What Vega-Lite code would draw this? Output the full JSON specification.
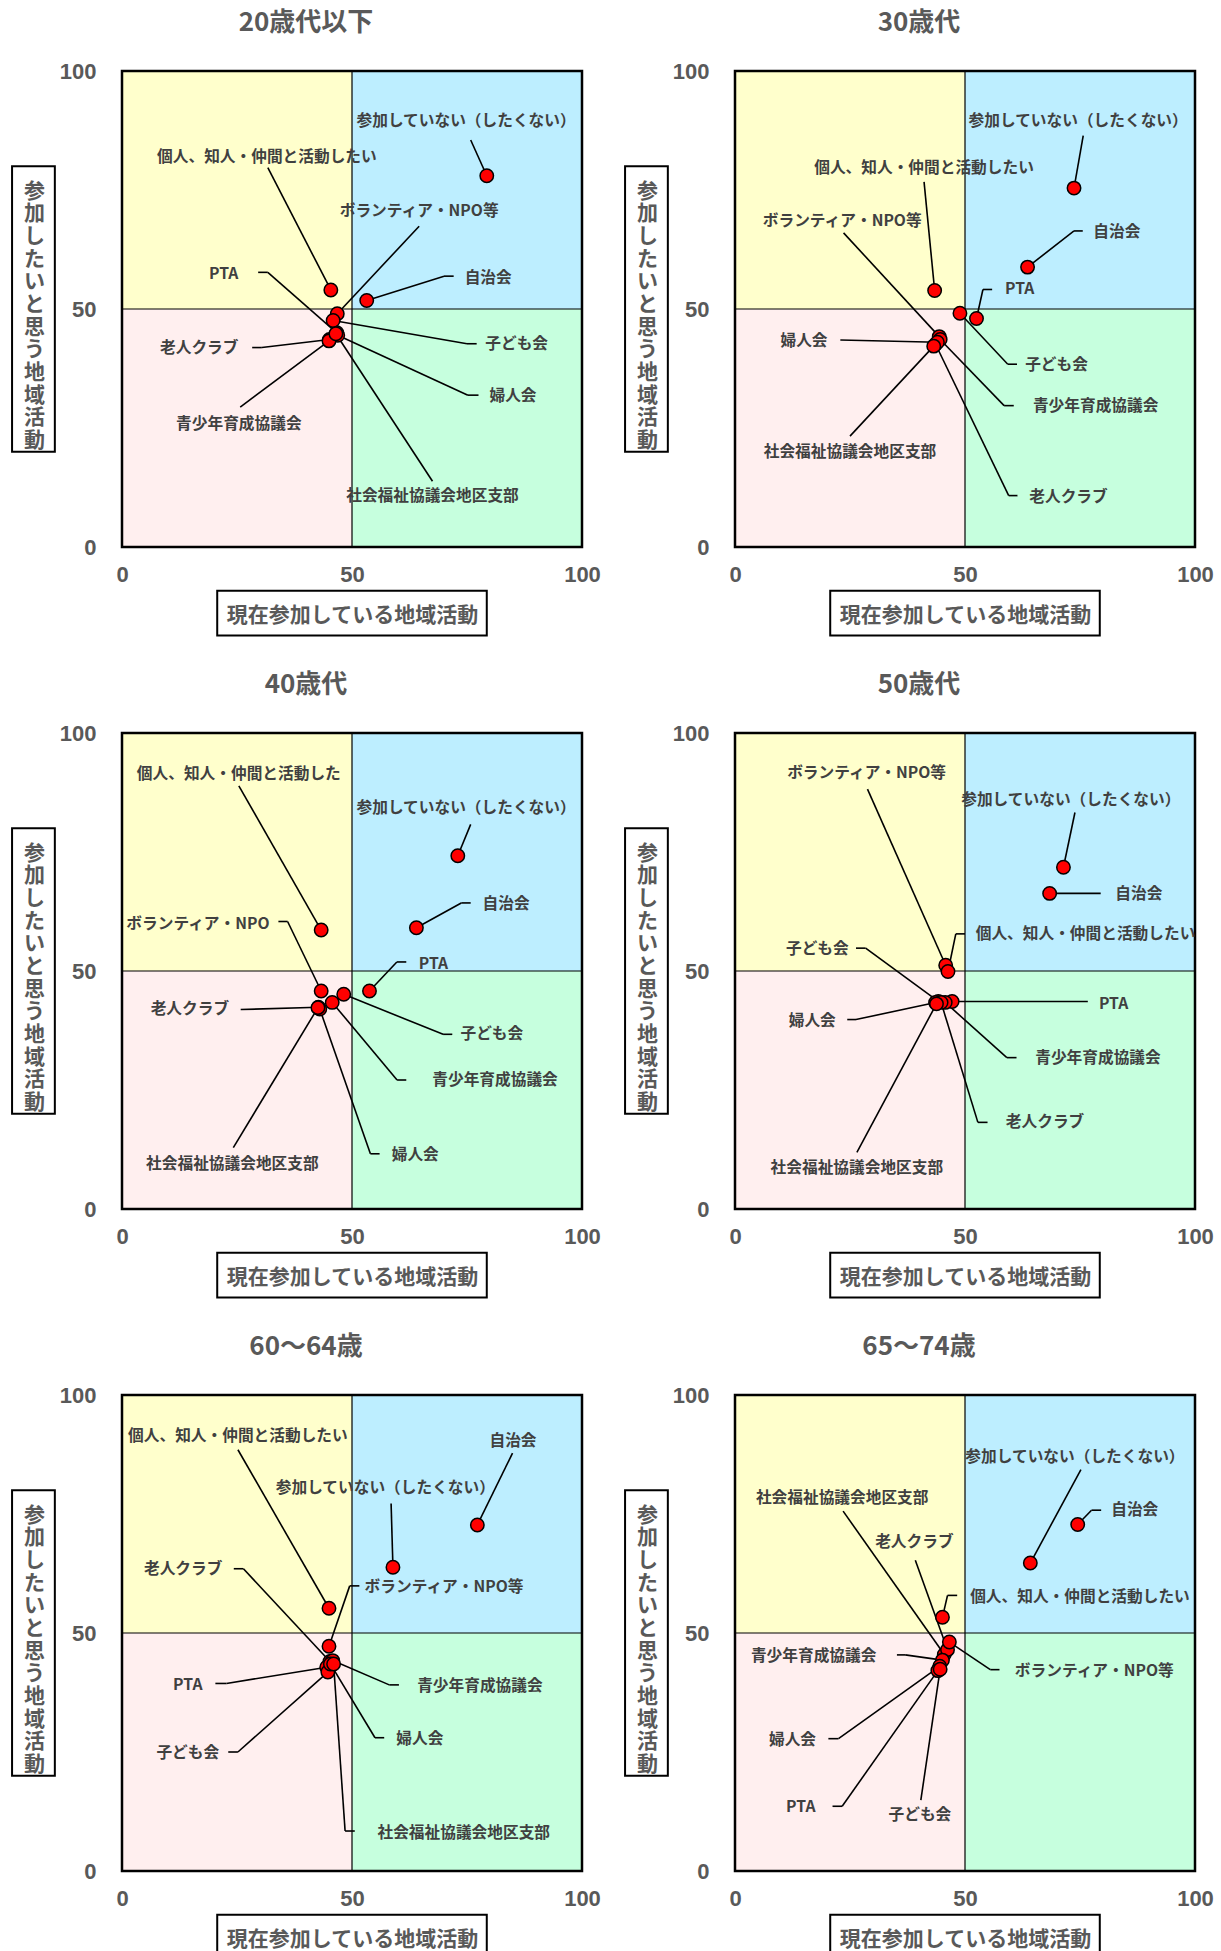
{
  "$schema": "https://vega.github.io/schema/vega-lite/v6.json",
  "autosize": {"type": "pad"},
  "padding": {"left": 11, "top": 10, "right": 0, "bottom": 0},
  "background": "white",
  "config": {
    "view": {"stroke": null},
    "axis": {"labelFont": "Liberation Sans", "labelFontSize": 22, "labelFontWeight": "bold", "labelColor": "#595959",
      "titleFont": "Noto Sans CJK JP", "titleFontSize": 21, "titleFontWeight": "bold", "titleColor": "#595959",
      "ticks": false, "tickSize": 0, "domain": false, "grid": false, "labelFlush": false, "labelOverlap": false},
    "axisX": {"labelPadding": 17, "titleY": 68, "titleBaseline": "middle"},
    "axisY": {"labelPadding": 26, "titleAngle": 0, "titleX": -88, "titleY": 120, "titleAlign": "center", "titleBaseline": "middle", "titleLineHeight": 22.7}
  },
  "data": {"values": [
    {"panel": "20歳代以下", "cat": "参加していない（したくない）", "label": "参加していない（したくない）", "x": 79.3, "y": 78.0, "lx": 74.8, "ly": 89.6, "ex": 75.8, "ey": 85.5},
    {"panel": "20歳代以下", "cat": "個人、知人・仲間と活動したい", "label": "個人、知人・仲間と活動したい", "x": 45.4, "y": 54.0, "lx": 31.5, "ly": 82.0, "ex": 31.7, "ey": 79.7},
    {"panel": "20歳代以下", "cat": "ボランティア・NPO等", "label": "ボランティア・NPO等", "x": 46.8, "y": 49.0, "lx": 64.6, "ly": 70.6, "ex": 64.6, "ey": 67.4},
    {"panel": "20歳代以下", "cat": "自治会", "label": "自治会", "x": 53.2, "y": 51.8, "lx": 79.6, "ly": 56.6, "ex": 70.0, "ey": 56.9, "hx": 72.1},
    {"panel": "20歳代以下", "cat": "PTA", "label": "PTA", "x": 46.7, "y": 45.0, "lx": 22.1, "ly": 57.4, "ex": 31.7, "ey": 57.7, "hx": 29.6},
    {"panel": "20歳代以下", "cat": "子ども会", "label": "子ども会", "x": 45.9, "y": 47.6, "lx": 85.8, "ly": 42.6, "ex": 75.0, "ey": 42.7, "hx": 77.1},
    {"panel": "20歳代以下", "cat": "婦人会", "label": "婦人会", "x": 46.9, "y": 44.5, "lx": 85.0, "ly": 31.7, "ex": 75.2, "ey": 31.9, "hx": 77.5},
    {"panel": "20歳代以下", "cat": "老人クラブ", "label": "老人クラブ", "x": 45.1, "y": 43.6, "lx": 16.8, "ly": 41.9, "ex": 30.4, "ey": 41.9, "hx": 28.3},
    {"panel": "20歳代以下", "cat": "青少年育成協議会", "label": "青少年育成協議会", "x": 45.0, "y": 43.3, "lx": 25.4, "ly": 25.8, "ex": 25.7, "ey": 29.4},
    {"panel": "20歳代以下", "cat": "社会福祉協議会地区支部", "label": "社会福祉協議会地区支部", "x": 46.5, "y": 44.8, "lx": 67.5, "ly": 10.8, "ex": 67.5, "ey": 13.8},

    {"panel": "30歳代", "cat": "参加していない（したくない）", "label": "参加していない（したくない）", "x": 73.7, "y": 75.4, "lx": 74.6, "ly": 89.5, "ex": 75.7, "ey": 86.4},
    {"panel": "30歳代", "cat": "個人、知人・仲間と活動したい", "label": "個人、知人・仲間と活動したい", "x": 43.4, "y": 53.9, "lx": 41.1, "ly": 79.7, "ex": 41.1, "ey": 76.7},
    {"panel": "30歳代", "cat": "ボランティア・NPO等", "label": "ボランティア・NPO等", "x": 44.4, "y": 44.2, "lx": 23.3, "ly": 68.4, "ex": 23.6, "ey": 66.0},
    {"panel": "30歳代", "cat": "自治会", "label": "自治会", "x": 63.6, "y": 58.8, "lx": 83.0, "ly": 66.2, "ex": 73.7, "ey": 66.4, "hx": 75.6},
    {"panel": "30歳代", "cat": "PTA", "label": "PTA", "x": 52.5, "y": 48.0, "lx": 61.9, "ly": 54.1, "ex": 53.9, "ey": 54.1, "hx": 55.9},
    {"panel": "30歳代", "cat": "子ども会", "label": "子ども会", "x": 48.9, "y": 49.1, "lx": 69.9, "ly": 38.2, "ex": 59.3, "ey": 38.4, "hx": 61.3},
    {"panel": "30歳代", "cat": "青少年育成協議会", "label": "青少年育成協議会", "x": 44.6, "y": 43.6, "lx": 78.4, "ly": 29.6, "ex": 58.5, "ey": 29.7, "hx": 60.6},
    {"panel": "30歳代", "cat": "老人クラブ", "label": "老人クラブ", "x": 43.6, "y": 42.6, "lx": 72.5, "ly": 10.6, "ex": 59.5, "ey": 10.8, "hx": 61.4},
    {"panel": "30歳代", "cat": "婦人会", "label": "婦人会", "x": 44.0, "y": 43.0, "lx": 15.0, "ly": 43.3, "ex": 22.9, "ey": 43.5},
    {"panel": "30歳代", "cat": "社会福祉協議会地区支部", "label": "社会福祉協議会地区支部", "x": 43.2, "y": 42.2, "lx": 25.0, "ly": 20.0, "ex": 25.0, "ey": 23.3},

    {"panel": "40歳代", "cat": "参加していない（したくない）", "label": "参加していない（したくない）", "x": 73.0, "y": 74.2, "lx": 74.8, "ly": 84.3, "ex": 75.8, "ey": 80.8},
    {"panel": "40歳代", "cat": "個人、知人・仲間と活動したい", "label": "個人、知人・仲間と活動した", "x": 43.3, "y": 58.6, "lx": 25.4, "ly": 91.4, "ex": 25.4, "ey": 88.9},
    {"panel": "40歳代", "cat": "ボランティア・NPO等", "label": "ボランティア・NPO", "x": 43.3, "y": 45.8, "lx": 16.5, "ly": 59.9, "ex": 36.0, "ey": 60.4, "hx": 34.0},
    {"panel": "40歳代", "cat": "自治会", "label": "自治会", "x": 64.0, "y": 59.1, "lx": 83.5, "ly": 64.1, "ex": 73.75, "ey": 64.3, "hx": 75.8},
    {"panel": "40歳代", "cat": "PTA", "label": "PTA", "x": 53.8, "y": 45.8, "lx": 67.7, "ly": 51.4, "ex": 59.75, "ey": 51.9, "hx": 61.8},
    {"panel": "40歳代", "cat": "子ども会", "label": "子ども会", "x": 48.2, "y": 45.1, "lx": 80.4, "ly": 36.7, "ex": 69.8, "ey": 36.7, "hx": 71.8},
    {"panel": "40歳代", "cat": "青少年育成協議会", "label": "青少年育成協議会", "x": 45.7, "y": 43.4, "lx": 81.1, "ly": 27.1, "ex": 59.8, "ey": 27.1, "hx": 61.8},
    {"panel": "40歳代", "cat": "老人クラブ", "label": "老人クラブ", "x": 42.7, "y": 42.4, "lx": 14.75, "ly": 42.0, "ex": 25.8, "ey": 41.9},
    {"panel": "40歳代", "cat": "婦人会", "label": "婦人会", "x": 43.0, "y": 42.0, "lx": 63.75, "ly": 11.4, "ex": 54.0, "ey": 11.6, "hx": 56.0},
    {"panel": "40歳代", "cat": "社会福祉協議会地区支部", "label": "社会福祉協議会地区支部", "x": 42.6, "y": 42.3, "lx": 24.0, "ly": 9.4, "ex": 24.2, "ey": 12.9},

    {"panel": "50歳代", "cat": "参加していない（したくない）", "label": "参加していない（したくない）", "x": 71.4, "y": 71.8, "lx": 73.0, "ly": 85.9, "ex": 73.9, "ey": 83.3},
    {"panel": "50歳代", "cat": "自治会", "label": "自治会", "x": 68.4, "y": 66.3, "lx": 87.8, "ly": 66.2, "ex": 79.5, "ey": 66.3},
    {"panel": "50歳代", "cat": "ボランティア・NPO等", "label": "ボランティア・NPO等", "x": 45.8, "y": 51.2, "lx": 28.6, "ly": 91.5, "ex": 28.8, "ey": 88.2},
    {"panel": "50歳代", "cat": "個人、知人・仲間と活動したい", "label": "個人、知人・仲間と活動したい", "x": 46.3, "y": 49.9, "lx": 76.2, "ly": 57.8, "ex": 48.0, "ey": 57.8, "hx": 50.0},
    {"panel": "50歳代", "cat": "子ども会", "label": "子ども会", "x": 44.2, "y": 43.6, "lx": 17.9, "ly": 54.6, "ex": 28.4, "ey": 54.8, "hx": 26.3},
    {"panel": "50歳代", "cat": "婦人会", "label": "婦人会", "x": 43.6, "y": 43.4, "lx": 16.8, "ly": 39.6, "ex": 26.3, "ey": 39.8, "hx": 24.4},
    {"panel": "50歳代", "cat": "PTA", "label": "PTA", "x": 47.2, "y": 43.6, "lx": 82.3, "ly": 43.1, "ex": 76.7, "ey": 43.6},
    {"panel": "50歳代", "cat": "青少年育成協議会", "label": "青少年育成協議会", "x": 45.7, "y": 43.4, "lx": 78.9, "ly": 31.7, "ex": 59.1, "ey": 31.8, "hx": 61.2},
    {"panel": "50歳代", "cat": "老人クラブ", "label": "老人クラブ", "x": 44.8, "y": 43.4, "lx": 67.4, "ly": 18.2, "ex": 52.8, "ey": 18.2, "hx": 54.9},
    {"panel": "50歳代", "cat": "社会福祉協議会地区支部", "label": "社会福祉協議会地区支部", "x": 43.8, "y": 43.1, "lx": 26.5, "ly": 8.7, "ex": 26.5, "ey": 11.9},

    {"panel": "60～64歳", "cat": "自治会", "label": "自治会", "x": 77.25, "y": 72.7, "lx": 85.0, "ly": 90.3, "ex": 84.9, "ey": 87.8},
    {"panel": "60～64歳", "cat": "参加していない（したくない）", "label": "参加していない（したくない）", "x": 58.9, "y": 63.8, "lx": 57.25, "ly": 80.4, "ex": 58.5, "ey": 77.2},
    {"panel": "60～64歳", "cat": "個人、知人・仲間と活動したい", "label": "個人、知人・仲間と活動したい", "x": 45.0, "y": 55.2, "lx": 25.2, "ly": 91.4, "ex": 25.2, "ey": 88.5},
    {"panel": "60～64歳", "cat": "老人クラブ", "label": "老人クラブ", "x": 45.2, "y": 44.0, "lx": 13.3, "ly": 63.5, "ex": 26.4, "ey": 63.5, "hx": 24.3},
    {"panel": "60～64歳", "cat": "ボランティア・NPO等", "label": "ボランティア・NPO等", "x": 45.0, "y": 47.2, "lx": 70.0, "ly": 59.7, "ex": 49.5, "ey": 59.9, "hx": 51.6},
    {"panel": "60～64歳", "cat": "青少年育成協議会", "label": "青少年育成協議会", "x": 45.8, "y": 44.2, "lx": 77.8, "ly": 38.8, "ex": 58.1, "ey": 39.1, "hx": 60.2},
    {"panel": "60～64歳", "cat": "PTA", "label": "PTA", "x": 44.5, "y": 42.8, "lx": 14.3, "ly": 39.1, "ex": 22.7, "ey": 39.4, "hx": 20.3},
    {"panel": "60～64歳", "cat": "子ども会", "label": "子ども会", "x": 44.75, "y": 41.8, "lx": 14.3, "ly": 24.7, "ex": 25.2, "ey": 25.0, "hx": 23.1},
    {"panel": "60～64歳", "cat": "婦人会", "label": "婦人会", "x": 45.3, "y": 43.5, "lx": 64.75, "ly": 27.8, "ex": 55.0, "ey": 28.0, "hx": 57.0},
    {"panel": "60～64歳", "cat": "社会福祉協議会地区支部", "label": "社会福祉協議会地区支部", "x": 46.0, "y": 43.5, "lx": 74.3, "ly": 8.0, "ex": 48.5, "ey": 8.4, "hx": 50.6},

    {"panel": "65～74歳", "cat": "参加していない（したくない）", "label": "参加していない（したくない）", "x": 64.2, "y": 64.7, "lx": 73.9, "ly": 87.0, "ex": 75.2, "ey": 84.3},
    {"panel": "65～74歳", "cat": "自治会", "label": "自治会", "x": 74.5, "y": 72.8, "lx": 86.9, "ly": 75.8, "ex": 77.5, "ey": 75.8, "hx": 79.6},
    {"panel": "65～74歳", "cat": "社会福祉協議会地区支部", "label": "社会福祉協議会地区支部", "x": 45.5, "y": 45.5, "lx": 23.3, "ly": 78.4, "ex": 23.5, "ey": 75.6},
    {"panel": "65～74歳", "cat": "老人クラブ", "label": "老人クラブ", "x": 46.2, "y": 46.5, "lx": 39.0, "ly": 69.1, "ex": 39.2, "ey": 65.3},
    {"panel": "65～74歳", "cat": "個人、知人・仲間と活動したい", "label": "個人、知人・仲間と活動したい", "x": 45.1, "y": 53.3, "lx": 75.0, "ly": 57.6, "ex": 46.2, "ey": 57.9, "hx": 48.3},
    {"panel": "65～74歳", "cat": "ボランティア・NPO等", "label": "ボランティア・NPO等", "x": 46.6, "y": 48.1, "lx": 78.1, "ly": 42.1, "ex": 55.5, "ey": 42.3, "hx": 57.5},
    {"panel": "65～74歳", "cat": "青少年育成協議会", "label": "青少年育成協議会", "x": 45.1, "y": 44.3, "lx": 17.1, "ly": 45.1, "ex": 37.0, "ey": 45.4, "hx": 35.2},
    {"panel": "65～74歳", "cat": "婦人会", "label": "婦人会", "x": 44.5, "y": 43.0, "lx": 12.5, "ly": 27.6, "ex": 22.5, "ey": 27.8, "hx": 20.3},
    {"panel": "65～74歳", "cat": "PTA", "label": "PTA", "x": 44.1, "y": 42.1, "lx": 14.3, "ly": 13.4, "ex": 23.3, "ey": 13.6, "hx": 21.2},
    {"panel": "65～74歳", "cat": "子ども会", "label": "子ども会", "x": 44.6, "y": 42.4, "lx": 40.2, "ly": 11.8, "ex": 40.4, "ey": 14.9}
  ]},
  "columns": 2,
  "spacing": {"row": 186, "column": 153},
  "bounds": "flush",
  "concat": [
    {"width": 460, "height": 476, "transform": [{"filter": "datum.panel === '20歳代以下'"}], "layer": [
      {"transform": [{"filter": "datum.cat === '自治会'"}], "mark": {"type": "rect", "color": "#FFFFCC"},
       "encoding": {"x": {"datum": 0, "type": "quantitative", "scale": {"domain": [0, 100], "nice": false, "zero": false}, "axis": {"values": [0, 50, 100], "title": "現在参加している地域活動"}}, "x2": {"datum": 50},
         "y": {"datum": 50, "type": "quantitative", "scale": {"domain": [0, 100], "nice": false, "zero": false}, "axis": {"values": [0, 50, 100], "title": ["参", "加", "し", "た", "い", "と", "思", "う", "地", "域", "活", "動"]}}, "y2": {"datum": 100}}},
      {"transform": [{"filter": "datum.cat === '自治会'"}], "mark": {"type": "rect", "color": "#BDEEFF"}, "encoding": {"x": {"datum": 50, "type": "quantitative"}, "x2": {"datum": 100}, "y": {"datum": 50, "type": "quantitative"}, "y2": {"datum": 100}}},
      {"transform": [{"filter": "datum.cat === '自治会'"}], "mark": {"type": "rect", "color": "#FFEFEF"}, "encoding": {"x": {"datum": 0, "type": "quantitative"}, "x2": {"datum": 50}, "y": {"datum": 0, "type": "quantitative"}, "y2": {"datum": 50}}},
      {"transform": [{"filter": "datum.cat === '自治会'"}], "mark": {"type": "rect", "color": "#C6FFDE"}, "encoding": {"x": {"datum": 50, "type": "quantitative"}, "x2": {"datum": 100}, "y": {"datum": 0, "type": "quantitative"}, "y2": {"datum": 50}}},
      {"transform": [{"filter": "datum.cat === '自治会'"}], "mark": {"type": "rule", "color": "#000000", "strokeWidth": 1.2}, "encoding": {"x": {"datum": 50, "type": "quantitative"}}},
      {"transform": [{"filter": "datum.cat === '自治会'"}], "mark": {"type": "rule", "color": "#000000", "strokeWidth": 1.2}, "encoding": {"y": {"datum": 50, "type": "quantitative"}}},
      {"transform": [{"filter": "datum.cat === '自治会'"}], "mark": {"type": "rect", "fillOpacity": 0, "stroke": "#000000", "strokeWidth": 2.5}, "encoding": {"x": {"datum": 0, "type": "quantitative"}, "x2": {"datum": 100}, "y": {"datum": 0, "type": "quantitative"}, "y2": {"datum": 100}}},
      {"transform": [{"filter": "datum.cat === '自治会'"}], "mark": {"type": "rect", "fillOpacity": 0, "stroke": "#000000", "strokeWidth": 2}, "encoding": {"x": {"datum": 20.7, "type": "quantitative"}, "x2": {"datum": 79.3}, "y": {"datum": -9.2, "type": "quantitative"}, "y2": {"datum": -18.6}}},
      {"transform": [{"filter": "datum.cat === '自治会'"}], "mark": {"type": "rect", "fillOpacity": 0, "stroke": "#000000", "strokeWidth": 2}, "encoding": {"x": {"datum": -23.9, "type": "quantitative"}, "x2": {"datum": -14.6}, "y": {"datum": 20, "type": "quantitative"}, "y2": {"datum": 80}}},
      {"transform": [{"filter": "datum.cat === '自治会'"}], "mark": {"type": "text", "font": "Noto Sans CJK JP", "fontSize": 26, "fontWeight": "bold", "color": "#595959", "align": "center", "baseline": "middle"}, "encoding": {"x": {"datum": 40, "type": "quantitative"}, "y": {"datum": 110, "type": "quantitative"}, "text": {"field": "panel"}}},
      {"mark": {"type": "rule", "color": "#000000", "strokeWidth": 1.6}, "encoding": {"x": {"field": "x", "type": "quantitative"}, "y": {"field": "y", "type": "quantitative"}, "x2": {"field": "ex"}, "y2": {"field": "ey"}}},
      {"transform": [{"filter": "isValid(datum.hx)"}], "mark": {"type": "rule", "color": "#000000", "strokeWidth": 1.6}, "encoding": {"x": {"field": "ex", "type": "quantitative"}, "x2": {"field": "hx"}, "y": {"field": "ey", "type": "quantitative"}}},
      {"mark": {"type": "point", "shape": "circle", "filled": true, "fill": "#FF0000", "stroke": "#000000", "strokeWidth": 1.5, "size": 180, "opacity": 1}, "encoding": {"x": {"field": "x", "type": "quantitative"}, "y": {"field": "y", "type": "quantitative"}, "tooltip": [{"field": "cat"}, {"field": "x"}, {"field": "y"}]}},
      {"mark": {"type": "text", "font": "Noto Sans CJK JP", "fontSize": 15.7, "fontWeight": "bold", "color": "#404040", "align": "center", "baseline": "middle"}, "encoding": {"x": {"field": "lx", "type": "quantitative"}, "y": {"field": "ly", "type": "quantitative"}, "text": {"field": "label"}}}
    ]},
    {"width": 460, "height": 476, "transform": [{"filter": "datum.panel === '30歳代'"}], "layer": [
      {"transform": [{"filter": "datum.cat === '自治会'"}], "mark": {"type": "rect", "color": "#FFFFCC"},
       "encoding": {"x": {"datum": 0, "type": "quantitative", "scale": {"domain": [0, 100], "nice": false, "zero": false}, "axis": {"values": [0, 50, 100], "title": "現在参加している地域活動"}}, "x2": {"datum": 50},
         "y": {"datum": 50, "type": "quantitative", "scale": {"domain": [0, 100], "nice": false, "zero": false}, "axis": {"values": [0, 50, 100], "title": ["参", "加", "し", "た", "い", "と", "思", "う", "地", "域", "活", "動"]}}, "y2": {"datum": 100}}},
      {"transform": [{"filter": "datum.cat === '自治会'"}], "mark": {"type": "rect", "color": "#BDEEFF"}, "encoding": {"x": {"datum": 50, "type": "quantitative"}, "x2": {"datum": 100}, "y": {"datum": 50, "type": "quantitative"}, "y2": {"datum": 100}}},
      {"transform": [{"filter": "datum.cat === '自治会'"}], "mark": {"type": "rect", "color": "#FFEFEF"}, "encoding": {"x": {"datum": 0, "type": "quantitative"}, "x2": {"datum": 50}, "y": {"datum": 0, "type": "quantitative"}, "y2": {"datum": 50}}},
      {"transform": [{"filter": "datum.cat === '自治会'"}], "mark": {"type": "rect", "color": "#C6FFDE"}, "encoding": {"x": {"datum": 50, "type": "quantitative"}, "x2": {"datum": 100}, "y": {"datum": 0, "type": "quantitative"}, "y2": {"datum": 50}}},
      {"transform": [{"filter": "datum.cat === '自治会'"}], "mark": {"type": "rule", "color": "#000000", "strokeWidth": 1.2}, "encoding": {"x": {"datum": 50, "type": "quantitative"}}},
      {"transform": [{"filter": "datum.cat === '自治会'"}], "mark": {"type": "rule", "color": "#000000", "strokeWidth": 1.2}, "encoding": {"y": {"datum": 50, "type": "quantitative"}}},
      {"transform": [{"filter": "datum.cat === '自治会'"}], "mark": {"type": "rect", "fillOpacity": 0, "stroke": "#000000", "strokeWidth": 2.5}, "encoding": {"x": {"datum": 0, "type": "quantitative"}, "x2": {"datum": 100}, "y": {"datum": 0, "type": "quantitative"}, "y2": {"datum": 100}}},
      {"transform": [{"filter": "datum.cat === '自治会'"}], "mark": {"type": "rect", "fillOpacity": 0, "stroke": "#000000", "strokeWidth": 2}, "encoding": {"x": {"datum": 20.7, "type": "quantitative"}, "x2": {"datum": 79.3}, "y": {"datum": -9.2, "type": "quantitative"}, "y2": {"datum": -18.6}}},
      {"transform": [{"filter": "datum.cat === '自治会'"}], "mark": {"type": "rect", "fillOpacity": 0, "stroke": "#000000", "strokeWidth": 2}, "encoding": {"x": {"datum": -23.9, "type": "quantitative"}, "x2": {"datum": -14.6}, "y": {"datum": 20, "type": "quantitative"}, "y2": {"datum": 80}}},
      {"transform": [{"filter": "datum.cat === '自治会'"}], "mark": {"type": "text", "font": "Noto Sans CJK JP", "fontSize": 26, "fontWeight": "bold", "color": "#595959", "align": "center", "baseline": "middle"}, "encoding": {"x": {"datum": 40, "type": "quantitative"}, "y": {"datum": 110, "type": "quantitative"}, "text": {"field": "panel"}}},
      {"mark": {"type": "rule", "color": "#000000", "strokeWidth": 1.6}, "encoding": {"x": {"field": "x", "type": "quantitative"}, "y": {"field": "y", "type": "quantitative"}, "x2": {"field": "ex"}, "y2": {"field": "ey"}}},
      {"transform": [{"filter": "isValid(datum.hx)"}], "mark": {"type": "rule", "color": "#000000", "strokeWidth": 1.6}, "encoding": {"x": {"field": "ex", "type": "quantitative"}, "x2": {"field": "hx"}, "y": {"field": "ey", "type": "quantitative"}}},
      {"mark": {"type": "point", "shape": "circle", "filled": true, "fill": "#FF0000", "stroke": "#000000", "strokeWidth": 1.5, "size": 180, "opacity": 1}, "encoding": {"x": {"field": "x", "type": "quantitative"}, "y": {"field": "y", "type": "quantitative"}, "tooltip": [{"field": "cat"}, {"field": "x"}, {"field": "y"}]}},
      {"mark": {"type": "text", "font": "Noto Sans CJK JP", "fontSize": 15.7, "fontWeight": "bold", "color": "#404040", "align": "center", "baseline": "middle"}, "encoding": {"x": {"field": "lx", "type": "quantitative"}, "y": {"field": "ly", "type": "quantitative"}, "text": {"field": "label"}}}
    ]},
    {"width": 460, "height": 476, "transform": [{"filter": "datum.panel === '40歳代'"}], "layer": [
      {"transform": [{"filter": "datum.cat === '自治会'"}], "mark": {"type": "rect", "color": "#FFFFCC"},
       "encoding": {"x": {"datum": 0, "type": "quantitative", "scale": {"domain": [0, 100], "nice": false, "zero": false}, "axis": {"values": [0, 50, 100], "title": "現在参加している地域活動"}}, "x2": {"datum": 50},
         "y": {"datum": 50, "type": "quantitative", "scale": {"domain": [0, 100], "nice": false, "zero": false}, "axis": {"values": [0, 50, 100], "title": ["参", "加", "し", "た", "い", "と", "思", "う", "地", "域", "活", "動"]}}, "y2": {"datum": 100}}},
      {"transform": [{"filter": "datum.cat === '自治会'"}], "mark": {"type": "rect", "color": "#BDEEFF"}, "encoding": {"x": {"datum": 50, "type": "quantitative"}, "x2": {"datum": 100}, "y": {"datum": 50, "type": "quantitative"}, "y2": {"datum": 100}}},
      {"transform": [{"filter": "datum.cat === '自治会'"}], "mark": {"type": "rect", "color": "#FFEFEF"}, "encoding": {"x": {"datum": 0, "type": "quantitative"}, "x2": {"datum": 50}, "y": {"datum": 0, "type": "quantitative"}, "y2": {"datum": 50}}},
      {"transform": [{"filter": "datum.cat === '自治会'"}], "mark": {"type": "rect", "color": "#C6FFDE"}, "encoding": {"x": {"datum": 50, "type": "quantitative"}, "x2": {"datum": 100}, "y": {"datum": 0, "type": "quantitative"}, "y2": {"datum": 50}}},
      {"transform": [{"filter": "datum.cat === '自治会'"}], "mark": {"type": "rule", "color": "#000000", "strokeWidth": 1.2}, "encoding": {"x": {"datum": 50, "type": "quantitative"}}},
      {"transform": [{"filter": "datum.cat === '自治会'"}], "mark": {"type": "rule", "color": "#000000", "strokeWidth": 1.2}, "encoding": {"y": {"datum": 50, "type": "quantitative"}}},
      {"transform": [{"filter": "datum.cat === '自治会'"}], "mark": {"type": "rect", "fillOpacity": 0, "stroke": "#000000", "strokeWidth": 2.5}, "encoding": {"x": {"datum": 0, "type": "quantitative"}, "x2": {"datum": 100}, "y": {"datum": 0, "type": "quantitative"}, "y2": {"datum": 100}}},
      {"transform": [{"filter": "datum.cat === '自治会'"}], "mark": {"type": "rect", "fillOpacity": 0, "stroke": "#000000", "strokeWidth": 2}, "encoding": {"x": {"datum": 20.7, "type": "quantitative"}, "x2": {"datum": 79.3}, "y": {"datum": -9.2, "type": "quantitative"}, "y2": {"datum": -18.6}}},
      {"transform": [{"filter": "datum.cat === '自治会'"}], "mark": {"type": "rect", "fillOpacity": 0, "stroke": "#000000", "strokeWidth": 2}, "encoding": {"x": {"datum": -23.9, "type": "quantitative"}, "x2": {"datum": -14.6}, "y": {"datum": 20, "type": "quantitative"}, "y2": {"datum": 80}}},
      {"transform": [{"filter": "datum.cat === '自治会'"}], "mark": {"type": "text", "font": "Noto Sans CJK JP", "fontSize": 26, "fontWeight": "bold", "color": "#595959", "align": "center", "baseline": "middle"}, "encoding": {"x": {"datum": 40, "type": "quantitative"}, "y": {"datum": 110, "type": "quantitative"}, "text": {"field": "panel"}}},
      {"mark": {"type": "rule", "color": "#000000", "strokeWidth": 1.6}, "encoding": {"x": {"field": "x", "type": "quantitative"}, "y": {"field": "y", "type": "quantitative"}, "x2": {"field": "ex"}, "y2": {"field": "ey"}}},
      {"transform": [{"filter": "isValid(datum.hx)"}], "mark": {"type": "rule", "color": "#000000", "strokeWidth": 1.6}, "encoding": {"x": {"field": "ex", "type": "quantitative"}, "x2": {"field": "hx"}, "y": {"field": "ey", "type": "quantitative"}}},
      {"mark": {"type": "point", "shape": "circle", "filled": true, "fill": "#FF0000", "stroke": "#000000", "strokeWidth": 1.5, "size": 180, "opacity": 1}, "encoding": {"x": {"field": "x", "type": "quantitative"}, "y": {"field": "y", "type": "quantitative"}, "tooltip": [{"field": "cat"}, {"field": "x"}, {"field": "y"}]}},
      {"mark": {"type": "text", "font": "Noto Sans CJK JP", "fontSize": 15.7, "fontWeight": "bold", "color": "#404040", "align": "center", "baseline": "middle"}, "encoding": {"x": {"field": "lx", "type": "quantitative"}, "y": {"field": "ly", "type": "quantitative"}, "text": {"field": "label"}}}
    ]},
    {"width": 460, "height": 476, "transform": [{"filter": "datum.panel === '50歳代'"}], "layer": [
      {"transform": [{"filter": "datum.cat === '自治会'"}], "mark": {"type": "rect", "color": "#FFFFCC"},
       "encoding": {"x": {"datum": 0, "type": "quantitative", "scale": {"domain": [0, 100], "nice": false, "zero": false}, "axis": {"values": [0, 50, 100], "title": "現在参加している地域活動"}}, "x2": {"datum": 50},
         "y": {"datum": 50, "type": "quantitative", "scale": {"domain": [0, 100], "nice": false, "zero": false}, "axis": {"values": [0, 50, 100], "title": ["参", "加", "し", "た", "い", "と", "思", "う", "地", "域", "活", "動"]}}, "y2": {"datum": 100}}},
      {"transform": [{"filter": "datum.cat === '自治会'"}], "mark": {"type": "rect", "color": "#BDEEFF"}, "encoding": {"x": {"datum": 50, "type": "quantitative"}, "x2": {"datum": 100}, "y": {"datum": 50, "type": "quantitative"}, "y2": {"datum": 100}}},
      {"transform": [{"filter": "datum.cat === '自治会'"}], "mark": {"type": "rect", "color": "#FFEFEF"}, "encoding": {"x": {"datum": 0, "type": "quantitative"}, "x2": {"datum": 50}, "y": {"datum": 0, "type": "quantitative"}, "y2": {"datum": 50}}},
      {"transform": [{"filter": "datum.cat === '自治会'"}], "mark": {"type": "rect", "color": "#C6FFDE"}, "encoding": {"x": {"datum": 50, "type": "quantitative"}, "x2": {"datum": 100}, "y": {"datum": 0, "type": "quantitative"}, "y2": {"datum": 50}}},
      {"transform": [{"filter": "datum.cat === '自治会'"}], "mark": {"type": "rule", "color": "#000000", "strokeWidth": 1.2}, "encoding": {"x": {"datum": 50, "type": "quantitative"}}},
      {"transform": [{"filter": "datum.cat === '自治会'"}], "mark": {"type": "rule", "color": "#000000", "strokeWidth": 1.2}, "encoding": {"y": {"datum": 50, "type": "quantitative"}}},
      {"transform": [{"filter": "datum.cat === '自治会'"}], "mark": {"type": "rect", "fillOpacity": 0, "stroke": "#000000", "strokeWidth": 2.5}, "encoding": {"x": {"datum": 0, "type": "quantitative"}, "x2": {"datum": 100}, "y": {"datum": 0, "type": "quantitative"}, "y2": {"datum": 100}}},
      {"transform": [{"filter": "datum.cat === '自治会'"}], "mark": {"type": "rect", "fillOpacity": 0, "stroke": "#000000", "strokeWidth": 2}, "encoding": {"x": {"datum": 20.7, "type": "quantitative"}, "x2": {"datum": 79.3}, "y": {"datum": -9.2, "type": "quantitative"}, "y2": {"datum": -18.6}}},
      {"transform": [{"filter": "datum.cat === '自治会'"}], "mark": {"type": "rect", "fillOpacity": 0, "stroke": "#000000", "strokeWidth": 2}, "encoding": {"x": {"datum": -23.9, "type": "quantitative"}, "x2": {"datum": -14.6}, "y": {"datum": 20, "type": "quantitative"}, "y2": {"datum": 80}}},
      {"transform": [{"filter": "datum.cat === '自治会'"}], "mark": {"type": "text", "font": "Noto Sans CJK JP", "fontSize": 26, "fontWeight": "bold", "color": "#595959", "align": "center", "baseline": "middle"}, "encoding": {"x": {"datum": 40, "type": "quantitative"}, "y": {"datum": 110, "type": "quantitative"}, "text": {"field": "panel"}}},
      {"mark": {"type": "rule", "color": "#000000", "strokeWidth": 1.6}, "encoding": {"x": {"field": "x", "type": "quantitative"}, "y": {"field": "y", "type": "quantitative"}, "x2": {"field": "ex"}, "y2": {"field": "ey"}}},
      {"transform": [{"filter": "isValid(datum.hx)"}], "mark": {"type": "rule", "color": "#000000", "strokeWidth": 1.6}, "encoding": {"x": {"field": "ex", "type": "quantitative"}, "x2": {"field": "hx"}, "y": {"field": "ey", "type": "quantitative"}}},
      {"mark": {"type": "point", "shape": "circle", "filled": true, "fill": "#FF0000", "stroke": "#000000", "strokeWidth": 1.5, "size": 180, "opacity": 1}, "encoding": {"x": {"field": "x", "type": "quantitative"}, "y": {"field": "y", "type": "quantitative"}, "tooltip": [{"field": "cat"}, {"field": "x"}, {"field": "y"}]}},
      {"mark": {"type": "text", "font": "Noto Sans CJK JP", "fontSize": 15.7, "fontWeight": "bold", "color": "#404040", "align": "center", "baseline": "middle"}, "encoding": {"x": {"field": "lx", "type": "quantitative"}, "y": {"field": "ly", "type": "quantitative"}, "text": {"field": "label"}}}
    ]},
    {"width": 460, "height": 476, "transform": [{"filter": "datum.panel === '60～64歳'"}], "layer": [
      {"transform": [{"filter": "datum.cat === '自治会'"}], "mark": {"type": "rect", "color": "#FFFFCC"},
       "encoding": {"x": {"datum": 0, "type": "quantitative", "scale": {"domain": [0, 100], "nice": false, "zero": false}, "axis": {"values": [0, 50, 100], "title": "現在参加している地域活動"}}, "x2": {"datum": 50},
         "y": {"datum": 50, "type": "quantitative", "scale": {"domain": [0, 100], "nice": false, "zero": false}, "axis": {"values": [0, 50, 100], "title": ["参", "加", "し", "た", "い", "と", "思", "う", "地", "域", "活", "動"]}}, "y2": {"datum": 100}}},
      {"transform": [{"filter": "datum.cat === '自治会'"}], "mark": {"type": "rect", "color": "#BDEEFF"}, "encoding": {"x": {"datum": 50, "type": "quantitative"}, "x2": {"datum": 100}, "y": {"datum": 50, "type": "quantitative"}, "y2": {"datum": 100}}},
      {"transform": [{"filter": "datum.cat === '自治会'"}], "mark": {"type": "rect", "color": "#FFEFEF"}, "encoding": {"x": {"datum": 0, "type": "quantitative"}, "x2": {"datum": 50}, "y": {"datum": 0, "type": "quantitative"}, "y2": {"datum": 50}}},
      {"transform": [{"filter": "datum.cat === '自治会'"}], "mark": {"type": "rect", "color": "#C6FFDE"}, "encoding": {"x": {"datum": 50, "type": "quantitative"}, "x2": {"datum": 100}, "y": {"datum": 0, "type": "quantitative"}, "y2": {"datum": 50}}},
      {"transform": [{"filter": "datum.cat === '自治会'"}], "mark": {"type": "rule", "color": "#000000", "strokeWidth": 1.2}, "encoding": {"x": {"datum": 50, "type": "quantitative"}}},
      {"transform": [{"filter": "datum.cat === '自治会'"}], "mark": {"type": "rule", "color": "#000000", "strokeWidth": 1.2}, "encoding": {"y": {"datum": 50, "type": "quantitative"}}},
      {"transform": [{"filter": "datum.cat === '自治会'"}], "mark": {"type": "rect", "fillOpacity": 0, "stroke": "#000000", "strokeWidth": 2.5}, "encoding": {"x": {"datum": 0, "type": "quantitative"}, "x2": {"datum": 100}, "y": {"datum": 0, "type": "quantitative"}, "y2": {"datum": 100}}},
      {"transform": [{"filter": "datum.cat === '自治会'"}], "mark": {"type": "rect", "fillOpacity": 0, "stroke": "#000000", "strokeWidth": 2}, "encoding": {"x": {"datum": 20.7, "type": "quantitative"}, "x2": {"datum": 79.3}, "y": {"datum": -9.2, "type": "quantitative"}, "y2": {"datum": -18.6}}},
      {"transform": [{"filter": "datum.cat === '自治会'"}], "mark": {"type": "rect", "fillOpacity": 0, "stroke": "#000000", "strokeWidth": 2}, "encoding": {"x": {"datum": -23.9, "type": "quantitative"}, "x2": {"datum": -14.6}, "y": {"datum": 20, "type": "quantitative"}, "y2": {"datum": 80}}},
      {"transform": [{"filter": "datum.cat === '自治会'"}], "mark": {"type": "text", "font": "Noto Sans CJK JP", "fontSize": 26, "fontWeight": "bold", "color": "#595959", "align": "center", "baseline": "middle"}, "encoding": {"x": {"datum": 40, "type": "quantitative"}, "y": {"datum": 110, "type": "quantitative"}, "text": {"field": "panel"}}},
      {"mark": {"type": "rule", "color": "#000000", "strokeWidth": 1.6}, "encoding": {"x": {"field": "x", "type": "quantitative"}, "y": {"field": "y", "type": "quantitative"}, "x2": {"field": "ex"}, "y2": {"field": "ey"}}},
      {"transform": [{"filter": "isValid(datum.hx)"}], "mark": {"type": "rule", "color": "#000000", "strokeWidth": 1.6}, "encoding": {"x": {"field": "ex", "type": "quantitative"}, "x2": {"field": "hx"}, "y": {"field": "ey", "type": "quantitative"}}},
      {"mark": {"type": "point", "shape": "circle", "filled": true, "fill": "#FF0000", "stroke": "#000000", "strokeWidth": 1.5, "size": 180, "opacity": 1}, "encoding": {"x": {"field": "x", "type": "quantitative"}, "y": {"field": "y", "type": "quantitative"}, "tooltip": [{"field": "cat"}, {"field": "x"}, {"field": "y"}]}},
      {"mark": {"type": "text", "font": "Noto Sans CJK JP", "fontSize": 15.7, "fontWeight": "bold", "color": "#404040", "align": "center", "baseline": "middle"}, "encoding": {"x": {"field": "lx", "type": "quantitative"}, "y": {"field": "ly", "type": "quantitative"}, "text": {"field": "label"}}}
    ]},
    {"width": 460, "height": 476, "transform": [{"filter": "datum.panel === '65～74歳'"}], "layer": [
      {"transform": [{"filter": "datum.cat === '自治会'"}], "mark": {"type": "rect", "color": "#FFFFCC"},
       "encoding": {"x": {"datum": 0, "type": "quantitative", "scale": {"domain": [0, 100], "nice": false, "zero": false}, "axis": {"values": [0, 50, 100], "title": "現在参加している地域活動"}}, "x2": {"datum": 50},
         "y": {"datum": 50, "type": "quantitative", "scale": {"domain": [0, 100], "nice": false, "zero": false}, "axis": {"values": [0, 50, 100], "title": ["参", "加", "し", "た", "い", "と", "思", "う", "地", "域", "活", "動"]}}, "y2": {"datum": 100}}},
      {"transform": [{"filter": "datum.cat === '自治会'"}], "mark": {"type": "rect", "color": "#BDEEFF"}, "encoding": {"x": {"datum": 50, "type": "quantitative"}, "x2": {"datum": 100}, "y": {"datum": 50, "type": "quantitative"}, "y2": {"datum": 100}}},
      {"transform": [{"filter": "datum.cat === '自治会'"}], "mark": {"type": "rect", "color": "#FFEFEF"}, "encoding": {"x": {"datum": 0, "type": "quantitative"}, "x2": {"datum": 50}, "y": {"datum": 0, "type": "quantitative"}, "y2": {"datum": 50}}},
      {"transform": [{"filter": "datum.cat === '自治会'"}], "mark": {"type": "rect", "color": "#C6FFDE"}, "encoding": {"x": {"datum": 50, "type": "quantitative"}, "x2": {"datum": 100}, "y": {"datum": 0, "type": "quantitative"}, "y2": {"datum": 50}}},
      {"transform": [{"filter": "datum.cat === '自治会'"}], "mark": {"type": "rule", "color": "#000000", "strokeWidth": 1.2}, "encoding": {"x": {"datum": 50, "type": "quantitative"}}},
      {"transform": [{"filter": "datum.cat === '自治会'"}], "mark": {"type": "rule", "color": "#000000", "strokeWidth": 1.2}, "encoding": {"y": {"datum": 50, "type": "quantitative"}}},
      {"transform": [{"filter": "datum.cat === '自治会'"}], "mark": {"type": "rect", "fillOpacity": 0, "stroke": "#000000", "strokeWidth": 2.5}, "encoding": {"x": {"datum": 0, "type": "quantitative"}, "x2": {"datum": 100}, "y": {"datum": 0, "type": "quantitative"}, "y2": {"datum": 100}}},
      {"transform": [{"filter": "datum.cat === '自治会'"}], "mark": {"type": "rect", "fillOpacity": 0, "stroke": "#000000", "strokeWidth": 2}, "encoding": {"x": {"datum": 20.7, "type": "quantitative"}, "x2": {"datum": 79.3}, "y": {"datum": -9.2, "type": "quantitative"}, "y2": {"datum": -18.6}}},
      {"transform": [{"filter": "datum.cat === '自治会'"}], "mark": {"type": "rect", "fillOpacity": 0, "stroke": "#000000", "strokeWidth": 2}, "encoding": {"x": {"datum": -23.9, "type": "quantitative"}, "x2": {"datum": -14.6}, "y": {"datum": 20, "type": "quantitative"}, "y2": {"datum": 80}}},
      {"transform": [{"filter": "datum.cat === '自治会'"}], "mark": {"type": "text", "font": "Noto Sans CJK JP", "fontSize": 26, "fontWeight": "bold", "color": "#595959", "align": "center", "baseline": "middle"}, "encoding": {"x": {"datum": 40, "type": "quantitative"}, "y": {"datum": 110, "type": "quantitative"}, "text": {"field": "panel"}}},
      {"mark": {"type": "rule", "color": "#000000", "strokeWidth": 1.6}, "encoding": {"x": {"field": "x", "type": "quantitative"}, "y": {"field": "y", "type": "quantitative"}, "x2": {"field": "ex"}, "y2": {"field": "ey"}}},
      {"transform": [{"filter": "isValid(datum.hx)"}], "mark": {"type": "rule", "color": "#000000", "strokeWidth": 1.6}, "encoding": {"x": {"field": "ex", "type": "quantitative"}, "x2": {"field": "hx"}, "y": {"field": "ey", "type": "quantitative"}}},
      {"mark": {"type": "point", "shape": "circle", "filled": true, "fill": "#FF0000", "stroke": "#000000", "strokeWidth": 1.5, "size": 180, "opacity": 1}, "encoding": {"x": {"field": "x", "type": "quantitative"}, "y": {"field": "y", "type": "quantitative"}, "tooltip": [{"field": "cat"}, {"field": "x"}, {"field": "y"}]}},
      {"mark": {"type": "text", "font": "Noto Sans CJK JP", "fontSize": 15.7, "fontWeight": "bold", "color": "#404040", "align": "center", "baseline": "middle"}, "encoding": {"x": {"field": "lx", "type": "quantitative"}, "y": {"field": "ly", "type": "quantitative"}, "text": {"field": "label"}}}
    ]}
  ]
}
